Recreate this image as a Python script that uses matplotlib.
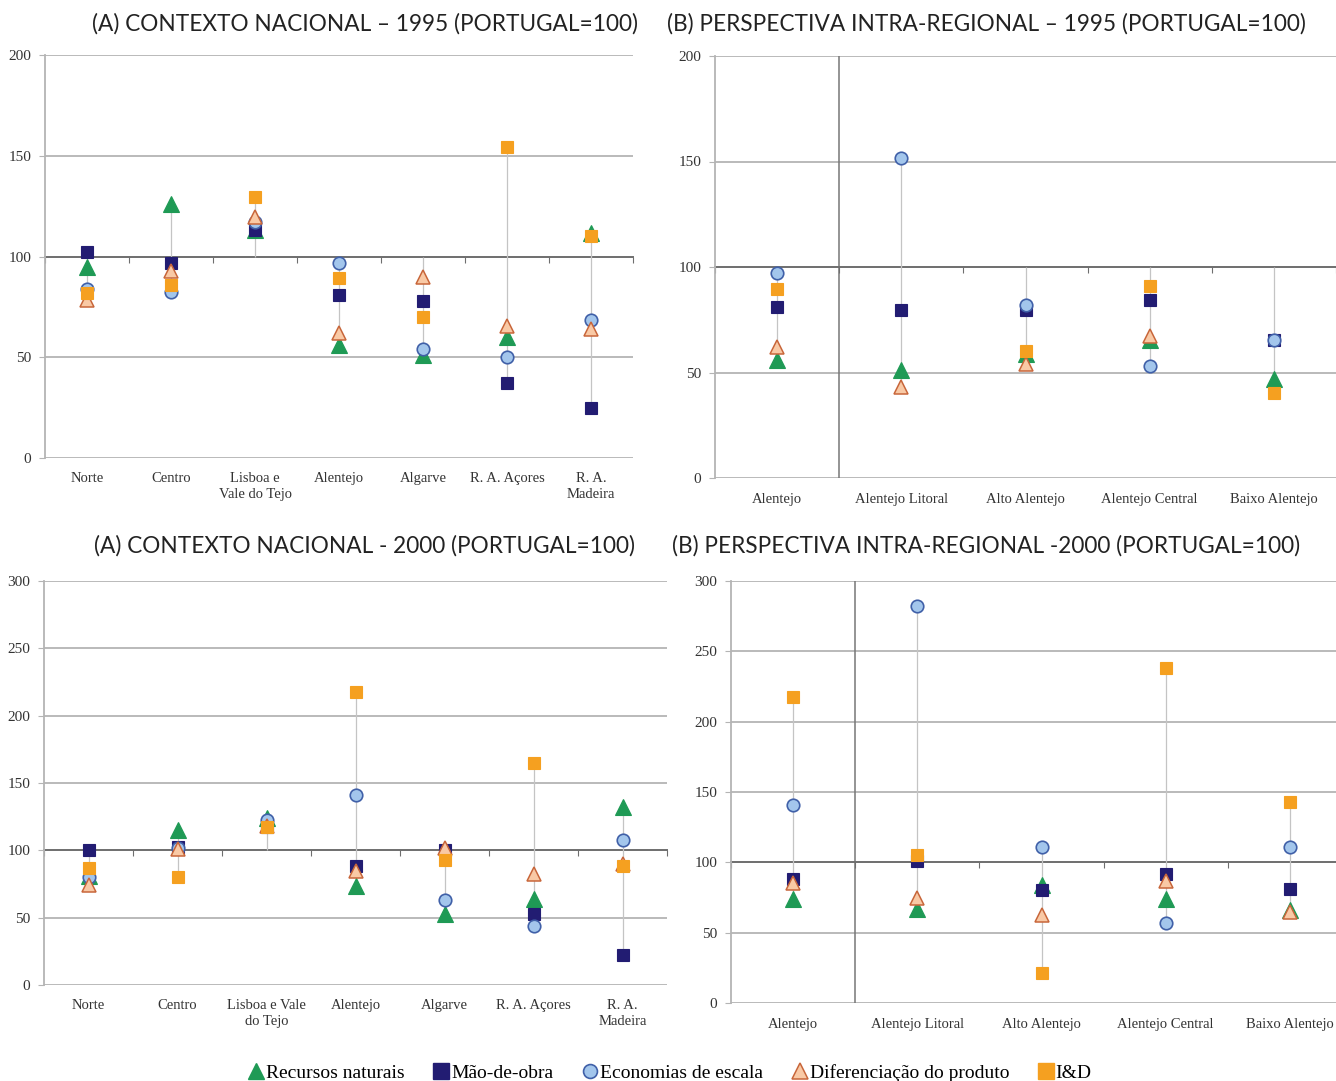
import matplotlib
matplotlib.use("Agg")
import matplotlib.pyplot as plt
import numpy as np
from matplotlib.lines import Line2D

# categorias
reg_nac_95 = ["Norte", "Centro", "Lisboa e\nVale do Tejo", "Alentejo", "Algarve", "R. A. Açores", "R. A.\nMadeira"]
reg_nac_00 = ["Norte", "Centro", "Lisboa e Vale\ndo Tejo", "Alentejo", "Algarve", "R. A. Açores", "R. A.\nMadeira"]
reg_alent = ["Alentejo", "Alentejo Litoral", "Alto Alentejo", "Alentejo Central", "Baixo Alentejo"]

series = ["Recursos naturais", "Mão-de-obra", "Economias de escala", "Diferenciação do produto", "I&D"]

# (A) 1995
rec_nat_a95 = [95, 126, 113, 56, 51, 60, 111.5]
mao_obra_a95 = [102, 97, 113, 81, 78, 37, 25]
econ_esc_a95 = [84, 82.5, 117, 97, 54, 50, 68.5]
dif_prod_a95 = [78.5, 93, 119.5, 62, 90, 65.5, 64]
id_a95 = [82, 86, 129.5, 89.5, 70, 154.5, 110]

# (B) 1995
rec_nat_b95 = [56, 51, 59, 65.5, 47]
mao_obra_b95 = [81, 79.5, 79.5, 84.5, 65.5]
econ_esc_b95 = [97, 151.5, 82, 53, 65.5]
dif_prod_b95 = [62, 43, 54, 67.5, np.nan]
id_b95 = [89.5, np.nan, 60, 91, 40.5]

# (A) 2000
rec_nat_a00 = [81, 115, 124, 73.5, 53, 64, 132]
mao_obra_a00 = [100, 102.5, 117, 88, 100, 53, 22]
econ_esc_a00 = [80, 102, 122.5, 141, 63, 43.5, 108]
dif_prod_a00 = [74.5, 101, 118, 85, 102, 82.5, 90]
id_a00 = [87, 80, 117, 217.5, 92.5, 164.5, 88]

# (B) 2000
rec_nat_b00 = [74, 67, 84, 74, 66]
mao_obra_b00 = [88, 101, 80.5, 92, 81]
econ_esc_b00 = [140.5, 282.5, 111, 57, 111]
dif_prod_b00 = [85, 75, 62.5, 87, 65]
id_b00 = [217.5, 105, 21, 238, 143]

plt.rcParams['font.family'] = ['Liberation Serif', 'DejaVu Serif']

estilos = [
    dict(marker='^', ms=12, mfc='#1f9a55', mec='#1f9a55', mew=0.8),
    dict(marker='s', ms=9, mfc='#221c72', mec='#221c72', mew=0.8),
    dict(marker='o', ms=9, mfc='#a3c6ec', mec='#4060a8', mew=1.2),
    dict(marker='^', ms=10, mfc='#f9c9a5', mec='#c8663a', mew=1.1),
    dict(marker='s', ms=9, mfc='#f5a020', mec='#f5a020', mew=0.8),
]


def painel(ax, cats, dados, ymax, divisor=False):
    n = len(cats)
    x = np.arange(n)
    arr = np.array(dados, dtype=float)
    lo = np.minimum(np.nanmin(arr, axis=0), 100)
    hi = np.maximum(np.nanmax(arr, axis=0), 100)
    ax.vlines(x, lo, hi, color='#c4c4c4', lw=0.9, zorder=2)
    for vals, st in zip(dados, estilos):
        ax.plot(x, vals, ls='none', zorder=3, **st)

    ax.set_xlim(-0.5, n - 0.5)
    ax.set_ylim(0, ymax)
    ticks = np.arange(0, ymax + 1, 50)
    ax.set_yticks(ticks)
    ax.set_yticklabels([str(t) for t in ticks], fontsize=11, color='#333333')
    for t in ticks:
        if t != 100:
            ax.axhline(t, color='#b4b4b4', lw=1.3, zorder=1)
    # eixo das categorias cruza em 100
    ax.spines['bottom'].set_position(('data', 100))
    ax.spines['bottom'].set_color('#6e6e6e')
    ax.spines['bottom'].set_linewidth(1.4)
    ax.spines['bottom'].set_zorder(1.5)
    ax.set_xticks(np.arange(n + 1) - 0.5)
    ax.set_xticklabels([])
    ax.tick_params(axis='x', direction='out', length=4, color='#6e6e6e')
    ax.spines['left'].set_color('#b4b4b4')
    ax.spines['left'].set_linewidth(1.3)
    ax.tick_params(axis='y', direction='out', length=4, color='#b4b4b4', pad=6)
    for s in ['top', 'right']:
        ax.spines[s].set_visible(False)
    if divisor:
        ax.axvline(0.5, color='#777777', lw=1.1, zorder=1)
    for i, c in enumerate(cats):
        ax.text(i, -0.035, c, transform=ax.get_xaxis_transform(), ha='center', va='top',
                fontsize=10.5, color='#333333', linespacing=1.3)


fig = plt.figure(figsize=(13.36, 10.81), dpi=100)
W, H = 1336, 1081


def eixo(l, r, t, b):
    return fig.add_axes([l / W, 1 - b / H, (r - l) / W, (b - t) / H])


ax1 = eixo(45, 633, 55, 458)
ax2 = eixo(715, 1336, 56, 478)
ax3 = eixo(44, 667, 581, 985)
ax4 = eixo(731, 1352, 581, 1003)

painel(ax1, reg_nac_95, [rec_nat_a95, mao_obra_a95, econ_esc_a95, dif_prod_a95, id_a95], 200)
painel(ax2, reg_alent, [rec_nat_b95, mao_obra_b95, econ_esc_b95, dif_prod_b95, id_b95], 200, divisor=True)
painel(ax3, reg_nac_00, [rec_nat_a00, mao_obra_a00, econ_esc_a00, dif_prod_a00, id_a00], 300)
painel(ax4, reg_alent, [rec_nat_b00, mao_obra_b00, econ_esc_b00, dif_prod_b00, id_b00], 300, divisor=True)

tit = dict(fontsize=16.3, family=['Lato', 'DejaVu Sans'], color='#222222', ha='center', va='center')
fig.text(365 / W, 1 - 24 / H, "(A) CONTEXTO NACIONAL – 1995 (PORTUGAL=100)", **tit)
fig.text(986 / W, 1 - 24 / H, "(B) PERSPECTIVA INTRA-REGIONAL – 1995 (PORTUGAL=100)", **tit)
fig.text(365 / W, 1 - 546 / H, "(A) CONTEXTO NACIONAL - 2000 (PORTUGAL=100)", **tit)
fig.text(986 / W, 1 - 546 / H, "(B) PERSPECTIVA INTRA-REGIONAL -2000 (PORTUGAL=100)", **tit)

leg_marcas = [
    Line2D([], [], ls='none', marker='^', ms=11, mfc='#1f9a55', mec='#1f9a55'),
    Line2D([], [], ls='none', marker='s', ms=11, mfc='#221c72', mec='#221c72'),
    Line2D([], [], ls='none', marker='o', ms=10, mfc='#a3c6ec', mec='#4060a8', mew=1.2),
    Line2D([], [], ls='none', marker='^', ms=11, mfc='#f9c9a5', mec='#c8663a', mew=1.1),
    Line2D([], [], ls='none', marker='s', ms=11, mfc='#f5a020', mec='#f5a020'),
]
fig.legend(leg_marcas, series, loc='center', bbox_to_anchor=(670 / W, 1 - 1073 / H), ncol=5,
           frameon=False, fontsize=14, handlelength=0.8, handletextpad=0.1, columnspacing=1.5)

fig.savefig("out.png", dpi=100)
